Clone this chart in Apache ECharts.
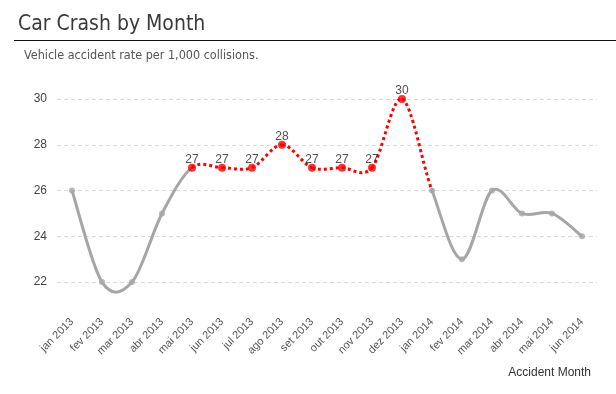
<!DOCTYPE html>
<html><head><meta charset="utf-8">
<script src="https://cdn.jsdelivr.net/npm/echarts@6/dist/echarts.min.js"></script>
<style>html,body{margin:0;padding:0;background:#fff}#c{width:616px;height:394px}</style>
</head><body><div id="c"></div>
<script>
const months = ['jan 2013','fev 2013','mar 2013','abr 2013','mai 2013','jun 2013','jul 2013','ago 2013','set 2013','out 2013','nov 2013','dez 2013','jan 2014','fev 2014','mar 2014','abr 2014','mai 2014','jun 2014'];
const rates = [26,22,22,25,27,27,27,28,27,27,27,30,26,23,26,25,25,24];
const highlightStart = 4;  // mai 2013: first red segment / first labelled point
const highlightLast = 11;  // dez 2013: last red point (red segment continues to next month)

const isRed = i => i >= highlightStart && i <= highlightLast;
const points = rates.map((v,i)=>[i,v]);
const grayPoints = points.filter((p,i)=>!isRed(i));
const redPoints = points.filter((p,i)=>isRed(i));

// Catmull-Rom style spline segments drawn through the axis scales
function renderSegment(params, api){
  const i = params.dataIndex;
  if (i >= rates.length - 1) return null;
  const c = j => { const k = Math.max(0,Math.min(rates.length-1,j)); return api.coord([k, rates[k]]); };
  const p0 = c(i-1), p1 = c(i), p2 = c(i+1), p3 = c(i+2);
  const t = 1/6;
  const cp1 = [p1[0] + (p2[0]-p0[0])*t, p1[1] + (p2[1]-p0[1])*t];
  const cp2 = [p2[0] - (p3[0]-p1[0])*t, p2[1] - (p3[1]-p1[1])*t];
  const red = isRed(i);
  return {
    type:'bezierCurve',
    shape:{x1:p1[0],y1:p1[1],x2:p2[0],y2:p2[1],cpx1:cp1[0],cpy1:cp1[1],cpx2:cp2[0],cpy2:cp2[1]},
    style:{fill:null, stroke: red ? '#ff0000' : '#a6a6a6', lineWidth:3, lineDash: red ? [3,3] : null, lineCap:'butt'},
    silent:true
  };
}

const chart = echarts.init(document.getElementById('c'));
chart.setOption({
  animation:false,
  title:[{
    text:'Car Crash by Month', left:13, top:9,
    textStyle:{fontFamily:'DejaVu Sans Condensed', fontSize:21, fontWeight:'normal', color:'#3a3a3a'}
  },{
    text:'Vehicle accident rate per 1,000 collisions.', left:19, top:44,
    textStyle:{fontFamily:'DejaVu Sans Condensed', fontSize:12.5, fontWeight:'normal', color:'#555'}
  }],
  graphic:[{type:'line', shape:{x1:14,y1:40.5,x2:616,y2:40.5}, style:{stroke:'#111',lineWidth:1}}],
  grid:{left:57,right:19,top:99,bottom:89},
  xAxis:{
    type:'category', data:months, boundaryGap:true,
    axisLine:{show:false}, axisTick:{show:false},
    axisLabel:{rotate:45, fontFamily:'Liberation Sans', fontSize:11, color:'#555', margin:15, interval:0},
    name:'Accident Month', nameLocation:'end', nameGap:0,
    nameTextStyle:{fontFamily:'Liberation Sans', fontSize:12, color:'#333', align:'right', verticalAlign:'top', padding:[62,6,0,0]}
  },
  yAxis:{
    type:'value', min:21, max:30, interval:1,
    axisLine:{show:false}, axisTick:{show:false},
    axisLabel:{fontFamily:'Liberation Sans', fontSize:12, color:'#444', margin:10,
      formatter:v=> v%2===0 ? String(v) : ''},
    splitLine:{lineStyle:{type:[4,3], color:['rgba(0,0,0,0)','#d9d9d9'], width:1}}
  },
  series:[
    {type:'custom', data:points, renderItem:renderSegment, z:2, silent:true},
    {type:'scatter', data:grayPoints, symbol:'circle', symbolSize:6,
     itemStyle:{color:'#a6a6a6'}, z:3},
    {type:'scatter', data:redPoints, symbol:'circle', symbolSize:8,
     itemStyle:{color:'#ff0000'}, z:4,
     label:{show:true, position:'top', distance:-2, formatter:p=>p.value[1],
       fontFamily:'Liberation Sans', fontSize:12, color:'#222'}}
  ]
});
</script></body></html>
